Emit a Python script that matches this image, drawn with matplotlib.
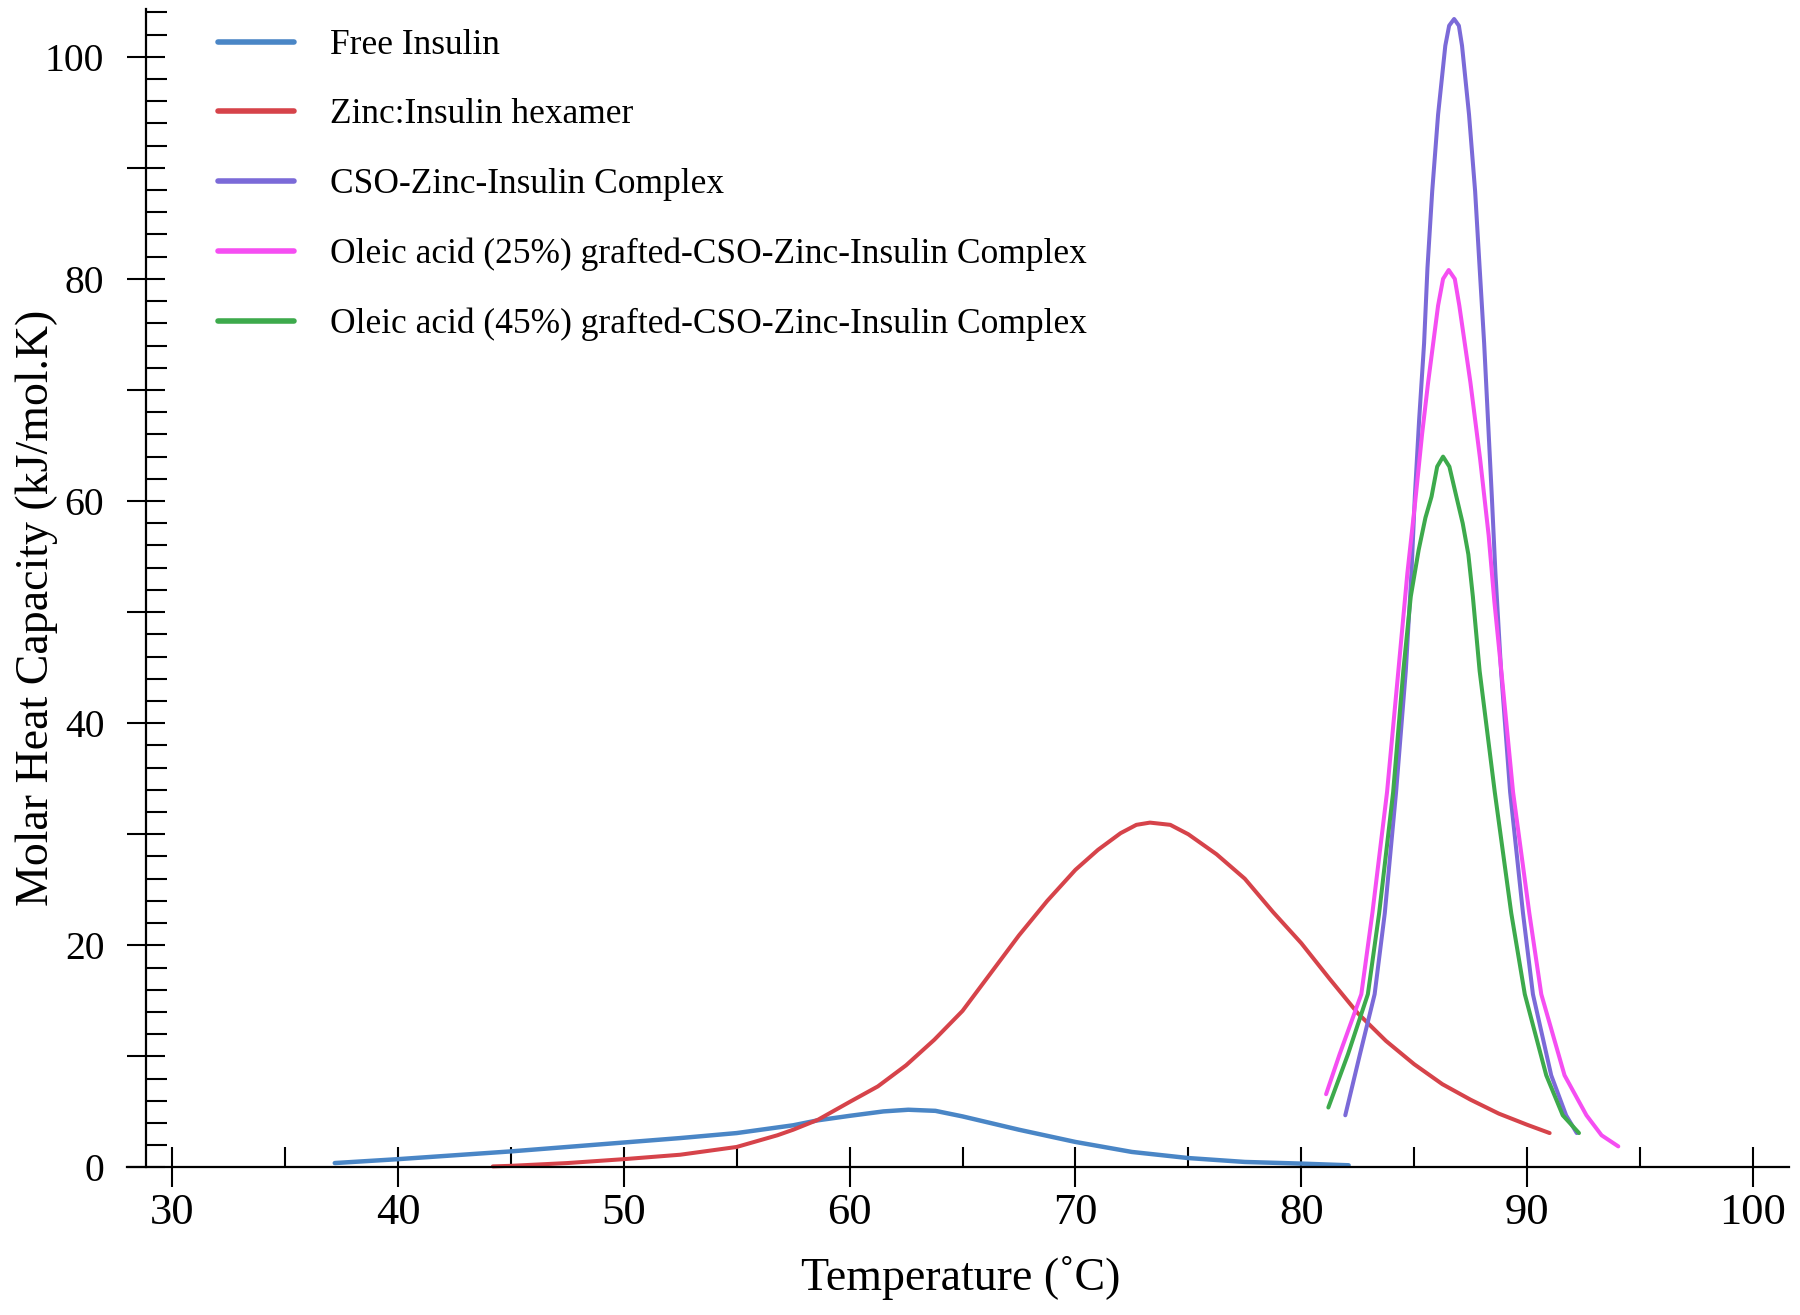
import matplotlib
matplotlib.use('Agg')
import matplotlib.pyplot as plt
from matplotlib.ticker import MultipleLocator, FuncFormatter

plt.rcParams['font.family'] = ['Liberation Serif', 'DejaVu Serif']

# ---------------- data ----------------
free_x = [37.2, 40, 42.5, 45, 47.5, 50, 52.5, 55, 57.5, 58.6, 60, 61.5, 62.6,
          63.8, 65, 67.5, 70, 72.5, 75, 77.5, 80, 82.1]
free_y = [0.4, 0.75, 1.1, 1.45, 1.85, 2.25, 2.65, 3.1, 3.8, 4.25, 4.65, 5.05, 5.2,
          5.1, 4.6, 3.4, 2.3, 1.4, 0.85, 0.5, 0.35, 0.2]

zinc_x = [44.2, 45, 47.5, 50, 52.5, 55, 56.8, 57.5, 58.6, 60, 61.25, 62.5, 63.75,
          65, 66.25, 67.5, 68.75, 70, 71.0, 72.0, 72.7, 73.3, 74.2, 75, 76.25,
          77.5, 78.75, 80, 81.25, 82.5, 83.75, 85, 86.25, 87.5, 88.75, 90, 91.0]
zinc_y = [0.1, 0.15, 0.4, 0.75, 1.15, 1.85, 2.9, 3.4, 4.3, 5.9, 7.3, 9.2, 11.5,
          14.1, 17.5, 20.9, 24.0, 26.8, 28.6, 30.1, 30.85, 31.05, 30.85, 30.0, 28.2,
          26.0, 23.0, 20.2, 17.0, 13.9, 11.4, 9.3, 7.5, 6.1, 4.85, 3.85, 3.1]

cso_x = [81.95, 82.6, 83.25, 83.7, 84.2, 84.63, 84.88, 85.03, 85.22, 85.44, 85.59,
         85.8, 86.06, 86.38, 86.55, 86.77, 86.98, 87.12, 87.43, 87.7, 87.9, 88.1,
         88.27, 88.44, 88.6, 88.85, 89.25, 89.82, 90.26, 91.07, 91.73, 92.2]
cso_y = [4.7, 10.2, 15.6, 22.9, 33.8, 44.7, 53.5, 60.4, 67.3, 74.2, 81.0,
         87.9, 94.8, 101.0, 102.8, 103.4, 102.8, 101.0, 94.8, 87.9, 81.0, 74.2,
         67.3, 60.4, 53.5, 44.7, 33.8, 22.9, 15.6, 8.3, 4.7, 3.1]

oa25_x = [81.1, 81.7, 82.66, 83.15, 83.8, 84.3, 84.7, 85.05, 85.35, 85.62, 86.06,
          86.28, 86.53, 86.8, 87.0, 87.49, 87.92, 88.3, 88.55, 88.86, 89.38, 90.1,
          90.63, 91.66, 92.63, 93.3, 94.04]
oa25_y = [6.6, 10.2, 15.6, 22.9, 33.8, 44.7, 53.5, 60.0, 66.0, 70.7, 77.6,
          80.0, 80.8, 80.0, 77.6, 70.7, 63.8, 56.9, 51.0, 44.7, 33.8, 22.9,
          15.6, 8.3, 4.7, 2.9, 1.9]

oa45_x = [81.2, 82.07, 82.95, 83.45, 84.07, 84.52, 84.85, 85.2, 85.5, 85.77, 86.02,
          86.28, 86.56, 86.87, 87.15, 87.4, 87.6, 87.9, 88.57, 89.3, 89.9, 90.85,
          91.58, 92.3]
oa45_y = [5.4, 10.2, 15.6, 22.9, 33.8, 44.7, 51.4, 55.6, 58.5, 60.4, 63.1,
          64.0, 63.1, 60.4, 58.0, 55.2, 51.4, 44.7, 33.8, 22.9, 15.6, 8.3,
          4.7, 3.1]

labels = ["Free Insulin",
          "Zinc:Insulin hexamer",
          "CSO-Zinc-Insulin Complex",
          "Oleic acid (25%) grafted-CSO-Zinc-Insulin Complex",
          "Oleic acid (45%) grafted-CSO-Zinc-Insulin Complex"]
colors = ["#4A86C6", "#D6434A", "#7B6AD8", "#F54EF2", "#3DAA4C"]
widths = [3.2, 2.9, 2.9, 2.9, 2.9]

series = [(free_x, free_y), (zinc_x, zinc_y), (cso_x, cso_y),
          (oa25_x, oa25_y), (oa45_x, oa45_y)]

# ---------------- figure ----------------
fig = plt.figure(figsize=(18, 13.15), dpi=100)
ax = fig.add_axes([0.07056, 0.11217, 0.92333, 0.88099])

for (xs, ys), lab, col, lw in zip(series, labels, colors, widths):
    ax.plot(xs, ys, color=col, lw=lw, label=lab, clip_on=False,
            solid_capstyle='round', solid_joinstyle='round')

ax.set_xlim(28.0, 101.6)
ax.set_ylim(0, 104.3)

for s in ['top', 'right']:
    ax.spines[s].set_visible(False)
ax.spines['left'].set_position(('data', 28.84))
for s in ['left', 'bottom']:
    ax.spines[s].set_linewidth(1.6)

ax.xaxis.set_major_locator(MultipleLocator(10))
ax.xaxis.set_minor_locator(MultipleLocator(5))
ax.yaxis.set_major_locator(MultipleLocator(10))
ax.yaxis.set_minor_locator(MultipleLocator(2))
ax.yaxis.set_major_formatter(FuncFormatter(
    lambda v, p: f"{int(round(v))}" if int(round(v)) % 20 == 0 else ""))

ax.tick_params(axis='x', which='major', direction='inout', length=29, width=1.5,
               pad=4, labelsize=32)
ax.tick_params(axis='x', which='minor', direction='in', length=14.5, width=1.5)
ax.tick_params(axis='y', which='major', direction='inout', length=28, width=1.5,
               pad=16, labelsize=28.5)
ax.tick_params(axis='y', which='minor', direction='in', length=15, width=1.5)

ax.set_xlabel("Temperature (˚C)", fontsize=33)
ax.set_ylabel("Molar Heat Capacity (kJ/mol.K)", fontsize=33)
ax.xaxis.label.set_verticalalignment('center')
ax.yaxis.label.set_verticalalignment('center')
ax.xaxis.set_label_coords(0.5018, -0.0954)
ax.yaxis.set_label_coords(-0.0545, 0.483)

leg = ax.legend(loc='upper left', bbox_to_anchor=(218 / 1800, 1 - 29 / 1315),
                bbox_transform=fig.transFigure, frameon=False, fontsize=25.5,
                handlelength=2.15, handletextpad=1.0, labelspacing=1.03,
                borderpad=0, borderaxespad=0)
for ln in leg.get_lines():
    ln.set_linewidth(4.0)

fig.savefig("out.png", dpi=100)
